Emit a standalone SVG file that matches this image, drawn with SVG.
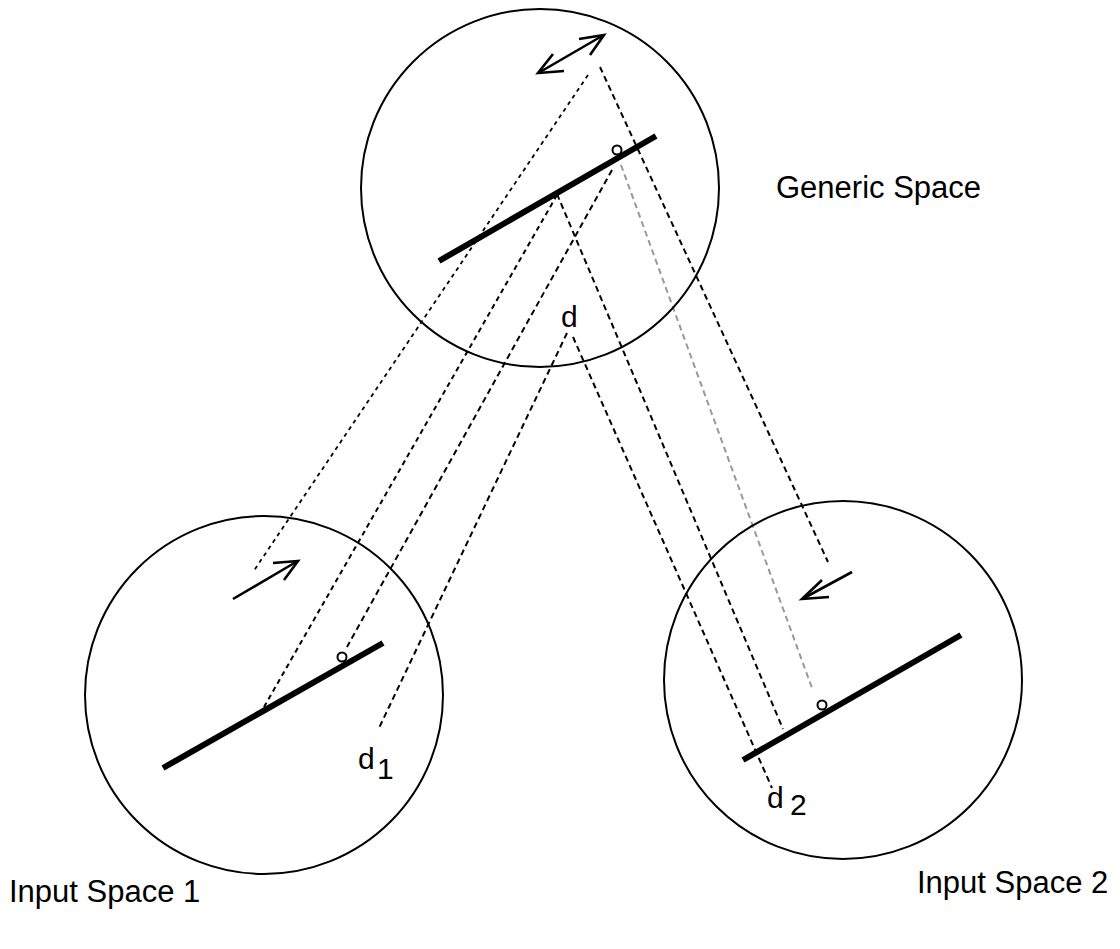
<svg xmlns="http://www.w3.org/2000/svg" width="1120" height="949" viewBox="0 0 1120 949">
<style>
.space{fill:none;stroke:#000;stroke-width:2}
.bar{stroke:#000;stroke-width:6;stroke-linecap:butt}
.pt{fill:#fff;stroke:#000;stroke-width:2}
.arr{fill:none;stroke:#000;stroke-width:2.6;stroke-linecap:butt;stroke-linejoin:miter}
.dash{stroke:#000;stroke-width:2;fill:none;stroke-dasharray:6 4}
.mid{stroke:#000;stroke-width:2;fill:none;stroke-dasharray:5 4}
.dot{stroke:#000;stroke-width:1.8;fill:none;stroke-dasharray:4 4}
.grey{stroke:#999;stroke-width:2;fill:none;stroke-dasharray:6 4}
text{font-family:"Liberation Sans",Arial,Helvetica,sans-serif;fill:#000}
.lbl{font-size:31px}
.dl{font-size:30px}
</style>
<rect width="1120" height="949" fill="#fff"/>
<g id="connectors">
<line class="dot" x1="588" y1="75" x2="253" y2="572"/>
<line class="mid" x1="557" y1="195" x2="264" y2="707"/>
<line class="dash" x1="612" y1="170" x2="347" y2="647"/>
<line class="dash" x1="567" y1="333" x2="379" y2="728"/>
<line class="dash" x1="573" y1="337" x2="772" y2="788"/>
<line class="dash" x1="557" y1="194" x2="783" y2="729"/>
<line class="grey" x1="621" y1="165" x2="812" y2="688"/>
<line class="dash" x1="600" y1="67" x2="828" y2="562"/>
</g>
<g id="generic-space">
<circle class="space" cx="540" cy="188" r="179"/>
<line class="bar" x1="439" y1="261" x2="656" y2="136"/>
<circle class="pt" cx="617" cy="150" r="4.5"/>
<line class="arr" x1="540" y1="72" x2="602" y2="36"/>
<polyline class="arr" points="579,39 604,35 590,55"/>
<polyline class="arr" points="553,54 538,73 564,71"/>
<text class="lbl" x="776" y="198">Generic Space</text>
<text class="dl" x="561" y="327">d</text>
</g>
<g id="input-space-1">
<circle class="space" cx="264" cy="695" r="179"/>
<line class="bar" x1="163" y1="768" x2="383" y2="643"/>
<circle class="pt" cx="342" cy="657" r="4.5"/>
<line class="arr" x1="233" y1="599" x2="296" y2="562"/>
<polyline class="arr" points="273,563 298,561 284,580"/>
<text class="dl" x="358" y="769">d</text>
<text class="dl" x="377" y="779">1</text>
<text class="lbl" x="9" y="902">Input Space 1</text>
</g>
<g id="input-space-2">
<circle class="space" cx="843" cy="680" r="179"/>
<line class="bar" x1="743" y1="760" x2="961" y2="635"/>
<circle class="pt" cx="822" cy="705" r="4.5"/>
<line class="arr" x1="852" y1="572" x2="804" y2="598"/>
<polyline class="arr" points="822,580 802,599 829,597"/>
<text class="dl" x="767" y="808">d</text>
<text class="dl" x="790" y="815">2</text>
<text class="lbl" x="917" y="893">Input Space 2</text>
</g>
</svg>
